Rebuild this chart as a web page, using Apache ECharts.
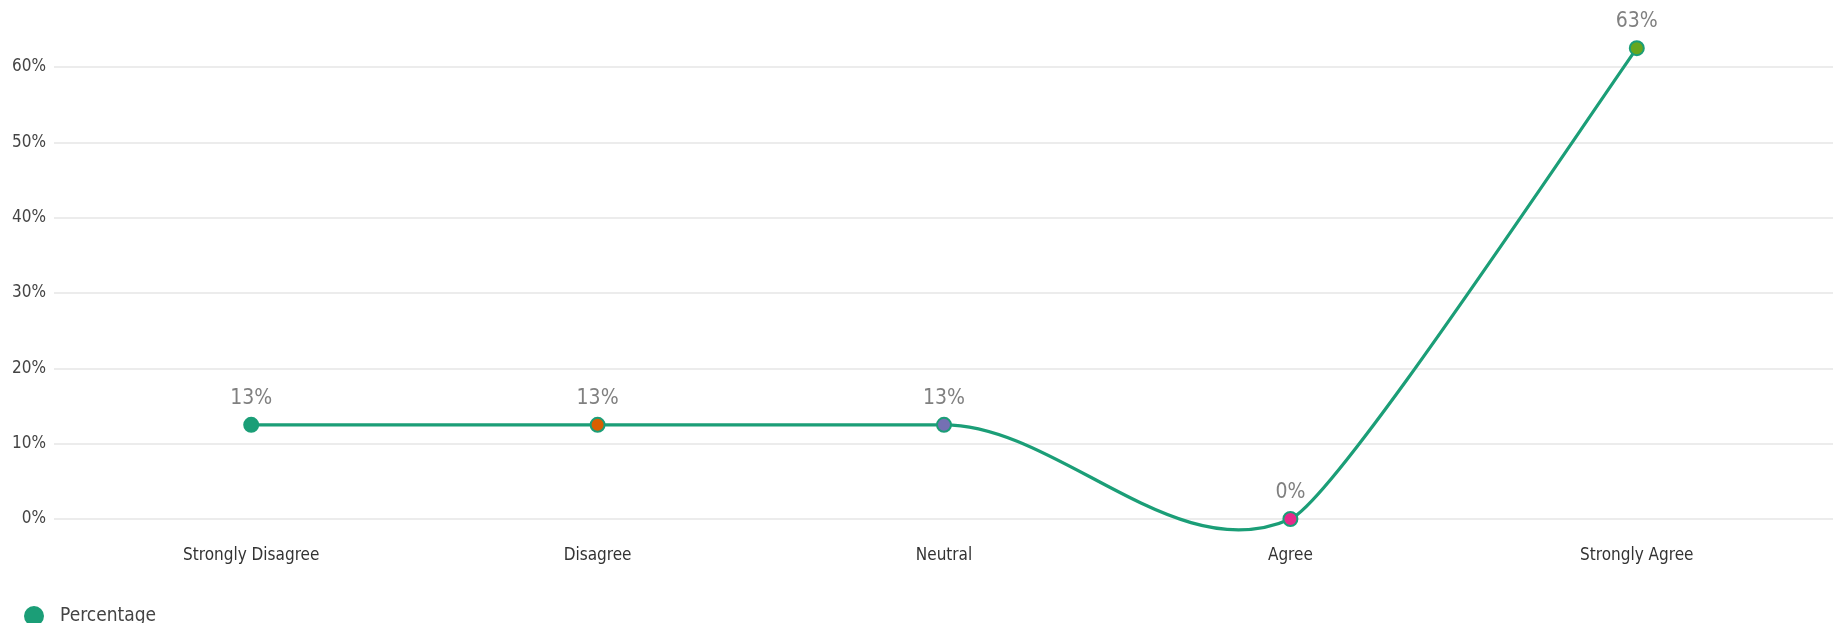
<!DOCTYPE html>
<html>
<head>
<meta charset="utf-8">
<script src="https://cdn.jsdelivr.net/npm/echarts@6/dist/echarts.min.js"></script>
<style>
  html, body { margin: 0; padding: 0; background: #fff; }
  #chart { width: 1839px; height: 623px; }
</style>
</head>
<body>
<div id="chart"></div>
<script>
  var categories = ['Strongly Disagree', 'Disagree', 'Neutral', 'Agree', 'Strongly Agree'];
  var percentages = [12.5, 12.5, 12.5, 0, 62.5];
  var pointColors = ['#1b9e77', '#d95f02', '#7570b3', '#e7298a', '#66a61e'];
  var yTicks = [0, 10, 20, 30, 40, 50, 60];

  var font = '"Liberation Sans Narrow", "DejaVu Sans Condensed", sans-serif';
  var lineColor = '#1b9e77';

  // curve shape per point: tangent slope (screen, up = +) and handle lengths
  // (fraction of the category step) going in / out
  var curveSlope = [0, 0, 0, 0.45, 1.45];
  var handleIn = [0, 0.33, 0.33, 0.33, 0.32];
  var handleOut = [0.33, 0.33, 0.33, 0.12, 0];

  var points = percentages.map(function (v, i) {
    return { value: v, itemStyle: { color: pointColors[i] } };
  });

  function renderCurve(params, api) {
    if (params.dataIndex !== 0) return null;
    var pts = percentages.map(function (v, i) { return api.coord([i, v]); });
    var d = 'M' + pts[0][0] + ' ' + pts[0][1];
    for (var i = 1; i < pts.length; i++) {
      var a = pts[i - 1], b = pts[i];
      var step = b[0] - a[0];
      var lo = handleOut[i - 1] * step, li = handleIn[i] * step;
      var c1 = [a[0] + lo, a[1] - lo * curveSlope[i - 1]];
      var c2 = [b[0] - li, b[1] + li * curveSlope[i]];
      d += ' C' + c1[0] + ' ' + c1[1] + ' ' + c2[0] + ' ' + c2[1] + ' ' + b[0] + ' ' + b[1];
    }
    return {
      type: 'path',
      shape: { pathData: d },
      style: { stroke: lineColor, lineWidth: 3.2, fill: null }
    };
  }

  var chart = echarts.init(document.getElementById('chart'));
  chart.setOption({
    animation: false,
    textStyle: { fontFamily: font },
    grid: [
      // grid 0 only carries the y axis + horizontal lines (wider)
      { left: 54, right: 6, top: 67, bottom: 104 },
      // grid 1 carries the categories and the line
      { left: 78, right: 29, top: 67, bottom: 104 }
    ],
    legend: {
      left: 19, top: 601,
      icon: 'circle',
      itemWidth: 18, itemHeight: 18,
      textStyle: { fontFamily: font, fontSize: 19, color: '#444', padding: [0, 0, 0, 12] },
      data: ['Percentage']
    },
    xAxis: [{
      gridIndex: 0, type: 'category', data: categories, show: false
    }, {
      gridIndex: 1, type: 'category', data: categories, boundaryGap: true,
      axisLine: { show: false }, axisTick: { show: false },
      axisLabel: { fontFamily: font, fontSize: 17, color: '#333', margin: 28 }
    }],
    yAxis: [{
      gridIndex: 0, type: 'value',
      min: yTicks[0], max: yTicks[yTicks.length - 1], interval: 10,
      axisLine: { show: false }, axisTick: { show: false },
      axisLabel: { formatter: '{value}%', fontFamily: font, fontSize: 17, color: '#444', margin: 8 },
      splitLine: { lineStyle: { color: '#e6e6e6', width: 1.5 } }
    }, {
      gridIndex: 1, type: 'value',
      min: yTicks[0], max: yTicks[yTicks.length - 1], show: false
    }],
    series: [{
      name: 'curve',
      type: 'custom',
      xAxisIndex: 1, yAxisIndex: 1,
      renderItem: renderCurve,
      silent: true,
      z: 1,
      data: percentages.map(function (v, i) { return [i, v]; })
    }, {
      name: 'Percentage',
      type: 'line',
      xAxisIndex: 1, yAxisIndex: 1,
      clip: false,
      z: 3,
      symbol: 'circle',
      symbolSize: 14,
      itemStyle: { color: lineColor, borderColor: lineColor, borderWidth: 2 },
      lineStyle: { color: lineColor, width: 3, opacity: 0 },
      label: {
        show: true, position: 'top', distance: 8,
        fontFamily: font, fontSize: 21, color: '#808080',
        formatter: function (p) { return Math.round(p.value) + '%'; }
      },
      data: points
    }]
  });
</script>
</body>
</html>
